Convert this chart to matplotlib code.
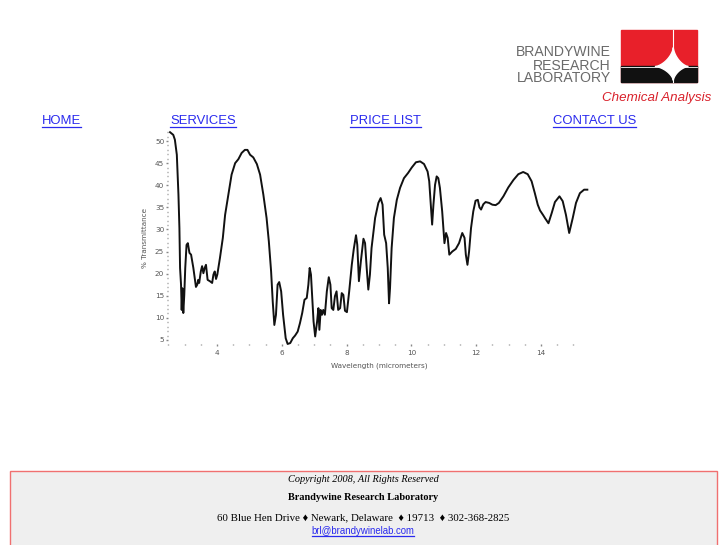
import matplotlib.pyplot as plt
import numpy as np
from matplotlib.lines import Line2D
from matplotlib.patches import Rectangle, Polygon

# IR spectrum
wavelength = [2.55, 2.65, 2.70, 2.76, 2.81, 2.84, 2.86, 2.89, 2.91, 2.93, 2.96, 2.99,
              3.02, 3.06, 3.10, 3.15, 3.20, 3.27, 3.35, 3.39, 3.42, 3.45, 3.50, 3.54,
              3.58, 3.62, 3.66, 3.71, 3.78, 3.85, 3.89, 3.93, 3.97, 4.01, 4.09, 4.18,
              4.25, 4.35, 4.45, 4.56, 4.66, 4.76, 4.86, 4.94, 5.02, 5.12, 5.23, 5.33,
              5.43, 5.53, 5.60, 5.67, 5.72, 5.77, 5.82, 5.87, 5.92, 5.98, 6.04, 6.12,
              6.18, 6.26, 6.34, 6.41, 6.49, 6.56, 6.63, 6.70, 6.77, 6.82, 6.86, 6.90,
              6.94, 6.98, 7.03, 7.09, 7.13, 7.16, 7.20, 7.24, 7.28, 7.33, 7.39, 7.45,
              7.50, 7.54, 7.59, 7.64, 7.69, 7.74, 7.80, 7.85, 7.90, 7.95, 8.01, 8.08,
              8.16, 8.22, 8.29, 8.33, 8.38, 8.44, 8.52, 8.57, 8.62, 8.67, 8.72, 8.77,
              8.88, 8.98, 9.05, 9.11, 9.16, 9.22, 9.27, 9.31, 9.34, 9.39, 9.46, 9.55,
              9.65, 9.77, 9.90, 10.01, 10.14, 10.27, 10.39, 10.50, 10.55, 10.60, 10.64,
              10.68, 10.73, 10.78, 10.83, 10.88, 10.95, 11.02, 11.07, 11.12, 11.17,
              11.26, 11.37, 11.47, 11.57, 11.64, 11.68, 11.73, 11.78, 11.84, 11.91,
              11.98, 12.05, 12.10, 12.15, 12.22, 12.29, 12.40, 12.50, 12.60, 12.70,
              12.84, 12.99, 13.15, 13.30, 13.45, 13.59, 13.71, 13.81, 13.90, 13.97,
              14.07, 14.12, 14.23, 14.33, 14.43, 14.57, 14.67, 14.77, 14.87, 14.98,
              15.08, 15.20, 15.33, 15.43]
transmittance = [52.0, 51.4, 50.3, 46.9, 37.9, 30.3, 21.3, 17.5, 11.8, 16.7, 11.1, 15.2,
                 21.3, 26.5, 26.9, 24.7, 24.3, 21.3, 17.0, 17.5, 18.6, 17.9, 20.5, 21.7,
                 20.1, 21.3, 22.0, 18.6, 18.3, 17.9, 19.8, 20.5, 18.8, 19.8, 23.5, 28.1,
                 33.3, 37.8, 42.4, 45.0, 45.9, 47.3, 48.0, 48.0, 46.9, 46.3, 44.8, 42.4,
                 37.9, 32.6, 27.3, 20.5, 13.7, 8.4, 10.7, 17.5, 18.1, 16.0, 10.7, 5.4,
                 4.1, 4.3, 5.4, 6.0, 6.9, 8.8, 11.1, 14.1, 14.5, 17.5, 21.3, 19.8,
                 14.5, 9.2, 5.8, 9.2, 12.2, 7.3, 11.8, 10.7, 11.8, 10.7, 16.0, 19.2,
                 17.5, 12.2, 11.8, 14.9, 16.0, 11.8, 12.2, 15.6, 15.2, 11.6, 11.3, 16.0,
                 22.0, 25.5, 28.7, 26.5, 18.3, 22.8, 27.9, 26.9, 21.3, 16.4, 19.8, 25.8,
                 32.6, 36.0, 37.1, 35.6, 28.8, 26.9, 21.3, 13.3, 16.7, 25.8, 32.6, 36.7,
                 39.4, 41.6, 42.8, 44.0, 45.2, 45.4, 44.8, 43.1, 40.9, 35.6, 31.1,
                 35.6, 40.1, 42.0, 41.6, 39.4, 34.1, 26.9, 29.2, 28.1, 24.3,
                 25.0, 25.6, 26.9, 29.2, 28.1, 24.3, 22.0, 25.0, 30.3, 34.1,
                 36.5, 36.7, 35.0, 34.5, 35.7, 36.2, 36.0, 35.6, 35.5, 36.0,
                 37.5, 39.5, 41.2, 42.5, 43.0, 42.5, 40.9, 38.2, 35.6, 34.3,
                 33.2, 32.6, 31.4, 33.7, 36.2, 37.5, 36.4, 33.3, 29.2, 32.6,
                 36.0, 38.2, 39.0, 39.0]

y_ticks = [5, 10, 15, 20, 25, 30, 35, 40, 45, 50]
x_ticks = [4, 6, 8, 10, 12, 14]
nav_items = ['HOME', 'SERVICES', 'PRICE LIST', 'CONTACT US']
nav_x = [42, 170, 350, 553]

W, H = 727, 545


def fx(x):
    return x / W


def fy(y):
    return 1 - y / H


fig = plt.figure(figsize=(W / 100, H / 100), dpi=100)

# spectrum
ax = fig.add_axes([fx(168.4), fy(344.4), fx(589.6) - fx(168.4), fy(132.2) - fy(344.4)])
ax.plot(wavelength, transmittance, color='#111111', lw=1.4, clip_on=False)
ax.set_xlim(2.5, 15.5)
ax.set_ylim(4, 52)
for s in ax.spines.values():
    s.set_visible(False)
ax.set_xticks(x_ticks)
ax.set_xticks(np.arange(2.5, 15.01, 0.5), minor=True)
ax.set_yticks(y_ticks)
ax.set_yticks(np.arange(5, 52.01, 1), minor=True)
ax.tick_params(which='both', direction='out', colors='#888888', width=1,
               labelsize=5.2, labelcolor='#555555')
ax.tick_params(which='major', length=1.5)
ax.tick_params(axis='y', which='major', pad=1.5)
ax.tick_params(axis='x', which='major', pad=2.5)
ax.tick_params(which='minor', length=1)
ax.set_xlabel('Wavelength (micrometers)', fontsize=5.2, color='#555555', labelpad=5)
ax.set_ylabel('% Transmittance', fontsize=5.2, color='#555555', labelpad=5)

# logo
x0, x1, ytop, ymid, ybot = 620.5, 697, 30, 66.5, 82
fig.patches.append(Rectangle((fx(x0), fy(ybot)), fx(x1) - fx(x0), fy(ytop) - fy(ybot),
                             transform=fig.transFigure, color='#e8202a'))
fig.patches.append(Rectangle((fx(x0), fy(ybot)), fx(x1) - fx(x0), fy(ymid) - fy(ybot),
                             transform=fig.transFigure, color='#111111'))
cx = 673.3
t = np.linspace(0, 2 * np.pi, 240)
ext_x = np.where(np.cos(t) >= 0, 15, 18)
ext_y = np.where(np.sin(t) >= 0, 19, 14)
sx = cx + ext_x * np.cos(t) ** 3
sy = ymid - ext_y * np.sin(t) ** 3
fig.patches.append(Polygon(np.column_stack([fx(sx), fy(sy)]), closed=True,
                           transform=fig.transFigure, color='white'))
fig.lines.append(Line2D([fx(x0), fx(x1)], [fy(ymid), fy(ymid)], transform=fig.transFigure,
                        color='white', lw=0.6))
fig.lines.append(Line2D([fx(cx), fx(cx)], [fy(ytop), fy(ybot)], transform=fig.transFigure,
                        color='white', lw=0.8))
for txt, yy in zip(['BRANDYWINE', 'RESEARCH', 'LABORATORY'], [52.5, 66, 78.5]):
    fig.text(fx(611), fy(yy), txt, ha='right', va='center', fontsize=10.1,
             color='#6a6a6a', family='Liberation Sans')
fig.text(fx(656.5), fy(97.5), 'Chemical Analysis', ha='center', va='center', fontsize=9.6,
         color='#d9202a', style='italic', family='Liberation Sans')

# navigation links
links = []
for name, x in zip(nav_items, nav_x):
    links.append(fig.text(fx(x), fy(121), name, ha='left', va='center', fontsize=9.4,
                          color='#2a2aee', family='Liberation Sans'))

# footer
fig.patches.append(Rectangle((fx(9.5), fy(546)), fx(717) - fx(9.5), fy(471) - fy(546),
                             transform=fig.transFigure, facecolor='#efefef',
                             edgecolor='#f07070', lw=1))
fig.text(fx(363), fy(479), 'Copyright 2008, All Rights Reserved', ha='center', va='center',
         fontsize=7.4, style='italic', family='Liberation Serif')
fig.text(fx(363), fy(498), 'Brandywine Research Laboratory', ha='center', va='center',
         fontsize=7.4, weight='bold', family='Liberation Serif')
fig.text(fx(363.5), fy(518), '60 Blue Hen Drive \u2666 Newark, Delaware  \u2666 19713  \u2666 302-368-2825',
         ha='center', va='center', fontsize=7.8, family=['Liberation Serif', 'DejaVu Sans'])
links.append(fig.text(fx(363), fy(531), 'brl@brandywinelab.com', ha='center', va='center',
                      fontsize=6.9, color='#2a2aee', family='Liberation Sans'))

# underline the links
fig.canvas.draw()
r = fig.canvas.get_renderer()
for tx in links:
    bb = tx.get_window_extent(r)
    yline = bb.y0 - 0.3
    fig.lines.append(Line2D([bb.x0 / W, bb.x1 / W], [yline / H, yline / H],
                            transform=fig.transFigure, color=tx.get_color(), lw=0.9))

fig.savefig('out.png', dpi=100)
